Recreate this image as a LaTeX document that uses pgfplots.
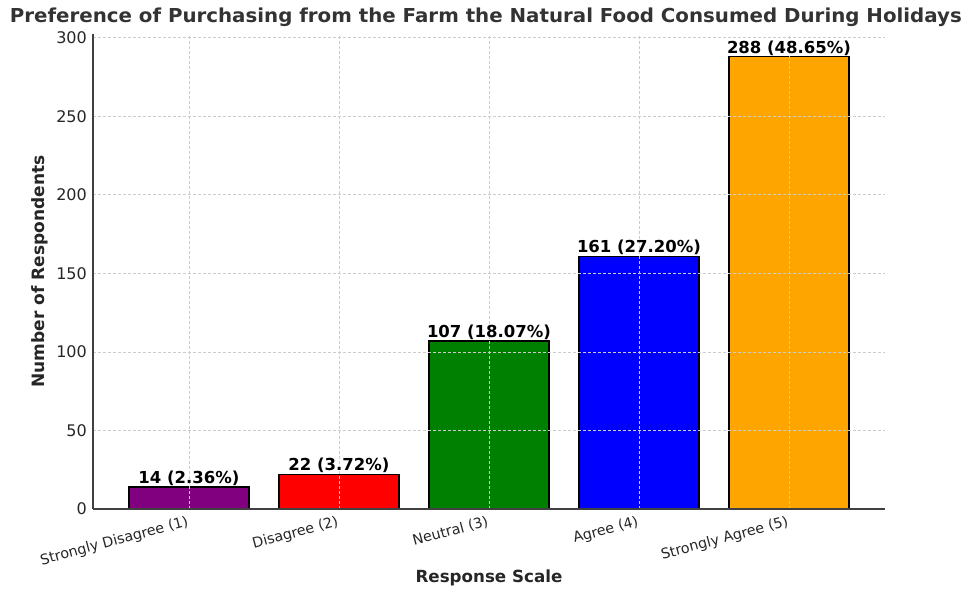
\documentclass[border=0pt]{standalone}
\usepackage{fontspec}
\setmainfont{DejaVu Sans}
\usepackage{graphicx}
\usepackage{pgfplots}
\pgfplotsset{compat=1.18}
\definecolor{txt}{RGB}{38,38,38}
\definecolor{ttl}{RGB}{51,51,51}
\definecolor{cpurple}{RGB}{128,0,128}
\definecolor{cred}{RGB}{255,0,0}
\definecolor{cgreen}{RGB}{0,128,0}
\definecolor{cblue}{RGB}{0,0,255}
\definecolor{corange}{RGB}{255,165,0}
\begin{document}
\begin{tikzpicture}[x=1pt,y=1pt]
\path[use as bounding box] (0,0) rectangle (969,589);
\begin{axis}[
  at={(93pt,80pt)}, anchor=south west,
  scale only axis, width=792pt, height=475pt,
  xmin=-0.64, xmax=4.64, ymin=0, ymax=302.4,
  axis x line*=bottom, axis y line*=left,
  axis line style={draw=black!75, line width=1.3pt, -},
  xtick={0,1,2,3,4},
  xticklabels={Strongly Disagree (1),Disagree (2),Neutral (3),Agree (4),Strongly Agree (5)},
  ytick={0,50,...,300},
  major tick length=0pt,
  grid=major,
  grid style={dash pattern=on 3pt off 2pt, black!20, line width=0.8pt},
  axis on top,
  /pgf/number format/assume math mode=true,
  yticklabel style={font=\fontsize{16}{19}\selectfont, text=txt, anchor=east, inner sep=0pt, xshift=-6pt},
  xticklabel style={font=\fontsize{14.3}{17}\selectfont, text=txt, rotate=15, anchor=north east, inner sep=0pt, yshift=-5pt, xshift=-4pt},
  title={\resizebox{952pt}{\height}{\fontsize{19.2}{23}\selectfont\bfseries Preference of Purchasing from the Farm the Natural Food Consumed During Holidays}},
  title style={at={(axis description cs:0.496,1.0126)}, anchor=base, text=ttl, inner sep=0pt},
  xlabel={Response Scale},
  ylabel={Number of Respondents},
  xlabel style={font=\fontsize{16.7}{20}\selectfont\bfseries, text=txt, at={(axis description cs:0.5,-0.145)}, anchor=center},
  ylabel style={font=\fontsize{17}{20}\selectfont\bfseries, text=txt, at={(axis description cs:-0.067,0.5)}, anchor=center},
  ybar, bar width=0.8, bar shift=0pt,
  point meta=explicit symbolic,
  nodes near coords,
  every node near coord/.append style={font=\fontsize{16.5}{19}\selectfont\bfseries, text=black, anchor=south, inner sep=0.8pt},
]
\addplot[fill=cpurple, draw=black, line width=1.2pt] coordinates {(0,14) [14 (2.36\%)]};
\addplot[fill=cred, draw=black, line width=1.2pt] coordinates {(1,22) [22 (3.72\%)]};
\addplot[fill=cgreen, draw=black, line width=1.2pt] coordinates {(2,107) [107 (18.07\%)]};
\addplot[fill=cblue, draw=black, line width=1.2pt] coordinates {(3,161) [161 (27.20\%)]};
\addplot[fill=corange, draw=black, line width=1.2pt] coordinates {(4,288) [288 (48.65\%)]};
\end{axis}
\end{tikzpicture}
\end{document}
